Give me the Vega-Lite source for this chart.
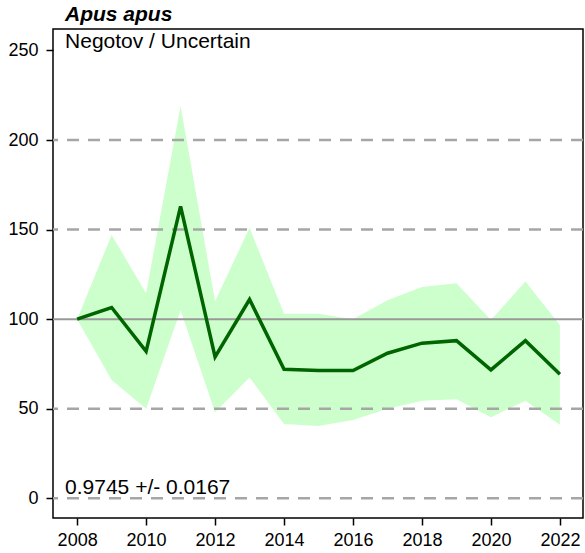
{
  "$schema": "https://vega.github.io/schema/vega-lite/v6.json",
  "width": 530,
  "height": 489,
  "autosize": "none",
  "padding": {"left": 53, "top": 29, "right": 2, "bottom": 35},
  "config": {
    "font": "Liberation Sans",
    "view": {"stroke": "black", "strokeWidth": 1.5},
    "axis": {
      "domain": false,
      "grid": false,
      "tickColor": "black",
      "tickWidth": 1.5,
      "tickSize": 7,
      "labelColor": "black",
      "labelFontSize": 18,
      "labelFont": "Liberation Sans",
      "title": null
    }
  },
  "title": {
    "text": "Apus apus",
    "anchor": "start",
    "frame": "group",
    "dx": 12,
    "offset": 4,
    "fontSize": 21,
    "fontWeight": "bold",
    "fontStyle": "italic",
    "font": "Liberation Sans",
    "color": "black"
  },
  "datasets": {
    "series": [
      {"year": 2008, "index": 100, "lo": 100, "hi": 100},
      {"year": 2009, "index": 106.5, "lo": 66, "hi": 147},
      {"year": 2010, "index": 82, "lo": 50, "hi": 114.5},
      {"year": 2011, "index": 163, "lo": 105, "hi": 219},
      {"year": 2012, "index": 79, "lo": 48, "hi": 110},
      {"year": 2013, "index": 111, "lo": 67.5, "hi": 151},
      {"year": 2014, "index": 72, "lo": 41.5, "hi": 103},
      {"year": 2015, "index": 71.3, "lo": 40.4, "hi": 103},
      {"year": 2016, "index": 71.3, "lo": 43.7, "hi": 100},
      {"year": 2017, "index": 81, "lo": 50, "hi": 110.5},
      {"year": 2018, "index": 86.6, "lo": 54.5, "hi": 118},
      {"year": 2019, "index": 88, "lo": 55.3, "hi": 120},
      {"year": 2020, "index": 71.7, "lo": 45.2, "hi": 99.6},
      {"year": 2021, "index": 88, "lo": 54.5, "hi": 121},
      {"year": 2022, "index": 69.3, "lo": 41, "hi": 96.8}
    ],
    "grid": [
      {"level": 0},
      {"level": 50},
      {"level": 150},
      {"level": 200}
    ],
    "base": [
      {"level": 100}
    ],
    "notes": [
      {"label": "Negotov / Uncertain", "x": 2007.65, "y": 251.6},
      {"label": "0.9745 +/- 0.0167", "x": 2007.65, "y": 2.2}
    ]
  },
  "layer": [
    {
      "data": {"name": "series"},
      "mark": {"type": "area", "color": "#ccffcc", "opacity": 1},
      "encoding": {
        "x": {
          "field": "year",
          "type": "quantitative",
          "scale": {"domain": [2007.3, 2022.67], "nice": false, "zero": false},
          "axis": {
            "values": [2008, 2009, 2010, 2011, 2012, 2013, 2014, 2015, 2016, 2017, 2018, 2019, 2020, 2021, 2022],
            "labelExpr": "datum.value % 2 == 0 ? format(datum.value, 'd') : ''",
            "labelPadding": 6,
            "labelFlush": false,
            "labelOverlap": false
          }
        },
        "y": {
          "field": "lo",
          "type": "quantitative",
          "scale": {"domain": [-11, 262], "nice": false, "zero": false},
          "axis": {"values": [0, 50, 100, 150, 200, 250], "labelPadding": 8}
        },
        "y2": {"field": "hi"}
      }
    },
    {
      "data": {"name": "grid"},
      "mark": {"type": "rule", "color": "#a6a6a6", "strokeWidth": 2.5, "strokeDash": [12, 9]},
      "encoding": {
        "y": {"field": "level", "type": "quantitative"}
      }
    },
    {
      "data": {"name": "base"},
      "mark": {"type": "rule", "color": "#999999", "strokeWidth": 2},
      "encoding": {
        "y": {"field": "level", "type": "quantitative"}
      }
    },
    {
      "data": {"name": "series"},
      "mark": {"type": "line", "color": "#006400", "strokeWidth": 3.5},
      "encoding": {
        "x": {"field": "year", "type": "quantitative"},
        "y": {"field": "index", "type": "quantitative"}
      }
    },
    {
      "data": {"name": "notes"},
      "mark": {"type": "text", "align": "left", "baseline": "alphabetic", "fontSize": 21, "font": "Liberation Sans", "color": "black"},
      "encoding": {
        "x": {"field": "x", "type": "quantitative"},
        "y": {"field": "y", "type": "quantitative"},
        "text": {"field": "label"}
      }
    }
  ]
}
